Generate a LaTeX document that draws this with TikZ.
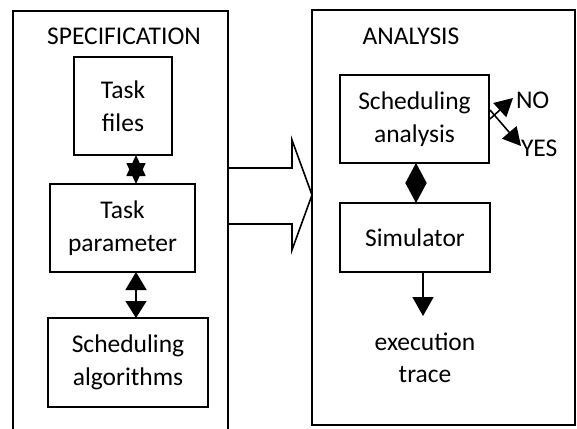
\documentclass[tikz,border=0pt]{standalone}
\usepackage{fontspec}
\setmainfont{Carlito}
\usetikzlibrary{arrows.meta,calc}
\begin{document}
\begin{tikzpicture}[x=1pt,y=-1pt,
  every node/.style={inner sep=0pt, outer sep=0pt},
  lbl/.style={font=\fontsize{25.5}{32.5}\selectfont, align=center},
  panel/.style={draw, line width=1.4pt, rectangle},
  blk/.style={draw, line width=1.6pt, rectangle, lbl},
  link/.style={line width=1.6pt},
]
\path[use as bounding box, fill=white] (0,0) rectangle (577,428);

% two panels
\node[panel, minimum width=215pt, minimum height=440pt] (spec) at (120.5,231) {};
\node[panel, minimum width=263pt, minimum height=415pt] (ana) at (443.5,217.5) {};
\node[lbl] (spectitle) at (124,36) {SPECIFICATION};
\node[lbl] (anatitle) at (411,36) {ANALYSIS};

% specification blocks
\node[blk, minimum width=98pt, minimum height=98pt] (files) at (123,106) {Task\\files};
\node[blk, minimum width=145pt, minimum height=88pt] (param) at (122.5,228) {Task\\parameter};
\node[blk, minimum width=160pt, minimum height=89pt] (algo) at (128,362.5) {Scheduling\\algorithms};

% analysis blocks
\node[blk, minimum width=149pt, minimum height=88pt] (sched) at (414.5,119) {Scheduling\\analysis};
\node[blk, minimum width=150pt, minimum height=69pt] (sim) at (415,237.5) {Simulator};
\node[lbl] (trace) at (425,358) {execution\\trace};
\node[lbl, anchor=west] (no) at (516,100) {NO};
\node[lbl, anchor=west] (yes) at (521,148) {YES};

% links inside the specification panel
\coordinate (f1) at ($(files.south)+(13,0)$);
\draw[link, {Triangle[length=21pt,width=19pt]}-{Triangle[length=21pt,width=19pt]}] (f1) -- (f1 |- param.north);
\coordinate (p1) at ($(param.south)+(13.5,0)$);
\draw[link, {Triangle[length=18pt,width=21pt]}-{Triangle[length=17pt,width=21pt]}] (p1) -- (p1 |- algo.north);

% links inside the analysis panel
\coordinate (s1) at ($(sched.south)+(1.5,0)$);
\draw[link, {Triangle[length=20pt,width=21pt]}-{Triangle[length=20pt,width=21pt]}] (s1) -- (s1 |- sim.north);
\coordinate (t1) at ($(sim.south)+(8,0)$);
\coordinate (t2) at ($(t1)+(0,44)$);
\draw[link, -{Triangle[length=19pt,width=21pt]}] (t1) -- (t2);

\coordinate (n0) at ($(sched.east)+(1,0)$);
\coordinate (n1) at ($(no.west)+(-3,-2)$);
\coordinate (y0) at ($(sched.east)+(1,-9)$);
\coordinate (y1) at ($(yes.west)+(0,-2)$);
\draw[link, -{Triangle[length=18pt,width=19pt]}] (n0) -- (n1);
\draw[link, -{Triangle[length=18pt,width=19pt]}] (y0) -- (y1);

% hollow block arrow from specification to analysis
\draw[line width=1.6pt, line join=miter]
  (spec.east |- 0,168) -- (292,168) -- (292,140) -- (ana.west |- 0,195)
  -- (292,250) -- (292,224) -- (spec.east |- 0,224);
\end{tikzpicture}
\end{document}
